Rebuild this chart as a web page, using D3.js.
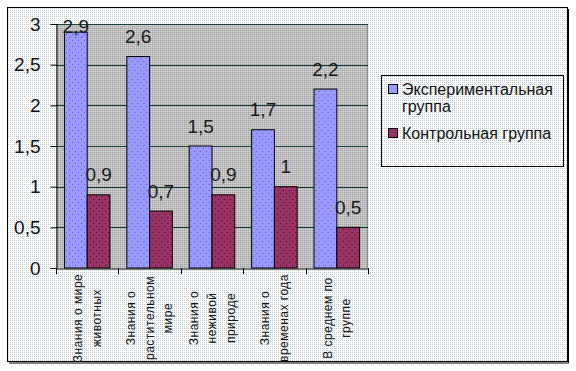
<!DOCTYPE html>
<html>
<head>
<meta charset="utf-8">
<script src="https://cdn.jsdelivr.net/npm/d3@7"></script>
<style>
  html, body { margin: 0; padding: 0; background: #fff; }
  text { font-family: Arial, "Liberation Sans", sans-serif; }
</style>
</head>
<body>
<svg id="chart" width="576" height="371"></svg>
<script>
// data
const categories = ["Знания о мире животных", "Знания о растительном мире", "Знания о неживой природе", "Знания о временах года", "В среднем по группе"];
const catLines = [["Знания о мире", "животных"], ["Знания о", "растительном", "мире"], ["Знания о", "неживой", "природе"], ["Знания о", "временах года"], ["В среднем по", "группе"]];
const seriesNames = ["Экспериментальная группа", "Контрольная группа"];
const expValues = [2.9, 2.6, 1.5, 1.7, 2.2];
const ctrlValues = [0.9, 0.7, 0.9, 1, 0.5];
const yTicks = [0, 0.5, 1, 1.5, 2, 2.5, 3];

const svg = d3.select("#chart");
const defs = svg.append("defs");

// dithered fills, like the old office chart
function dots(id, base, spots, w, h) {
  const p = defs.append("pattern").attr("id", id)
    .attr("patternUnits", "userSpaceOnUse").attr("width", w).attr("height", h);
  p.append("rect").attr("width", w).attr("height", h).attr("fill", base);
  spots.forEach(s => p.append("rect").attr("x", s[0]).attr("y", s[1])
    .attr("width", 1).attr("height", 1).attr("fill", s[2]));
}
dots("bgDots", "#ffffff", [[0, 0, "#c4c4cc"], [2, 0, "#c4c4cc"], [0, 2, "#b8e8ec"], [2, 2, "#c4c4cc"]], 4, 4);
dots("plotDots", "#c0c0c0", [[0, 0, "#a0a0a0"], [1, 1, "#d4d4d4"]], 2, 2);
dots("blueDots", "#9999ff", [[1, 1, "#5a5ab0"], [4, 4, "#5a5ab0"]], 6, 6);
dots("redDots", "#993366", [[1, 1, "#3a1020"], [4, 4, "#3a1020"]], 6, 6);

// outer frame
svg.append("rect").attr("x", 7.5).attr("y", 7.5).attr("width", 560).attr("height", 354)
  .attr("fill", "url(#bgDots)").attr("stroke", "#000").attr("stroke-width", 1);
svg.append("path").attr("d", "M568.5,9V363H9").attr("fill", "none").attr("stroke", "#000");

const pLeft = 56, pRight = 368, pTop = 24, pBottom = 268;

const y = d3.scaleLinear().domain([0, 3]).range([pBottom, pTop]);
const x0 = d3.scaleBand().domain(categories).range([pLeft, pRight]);
const x1 = d3.scaleBand().domain(seriesNames).range([0, x0.bandwidth()]).paddingOuter(0.37);

// plot area
svg.append("rect").attr("x", pLeft).attr("y", pTop).attr("width", pRight - pLeft).attr("height", pBottom - pTop)
  .attr("fill", "url(#plotDots)");
svg.append("path").attr("d", `M${pLeft},${pTop + 0.5}H${pRight - 0.5}V${pBottom}`)
  .attr("fill", "none").attr("stroke", "#8c8c8c");

// grid
svg.append("g").selectAll("line").data(yTicks.filter(t => t > 0)).join("line")
  .attr("x1", pLeft).attr("x2", pRight)
  .attr("y1", d => Math.round(y(d)) + 0.5).attr("y2", d => Math.round(y(d)) + 0.5)
  .attr("stroke", "#143c3c");

// y axis
const yAxis = d3.axisLeft(y).tickValues(yTicks).tickSize(6).tickPadding(10)
  .tickFormat(d => String(d).replace(".", ","));
const gy = svg.append("g").attr("transform", `translate(${pLeft + 0.5},0)`).call(yAxis);
gy.select(".domain").attr("stroke", "#000");
gy.selectAll(".tick line").attr("stroke", "#000");
gy.selectAll(".tick text").attr("font-size", 19).attr("fill", "#111")
  .attr("font-family", "Arial, 'Liberation Sans', sans-serif");

// bars
const groups = svg.append("g").selectAll("g").data(categories).join("g")
  .attr("transform", d => `translate(${x0(d)},0)`);
const rows = categories.map((c, i) => [
  { s: seriesNames[0], v: expValues[i], fill: "url(#blueDots)" },
  { s: seriesNames[1], v: ctrlValues[i], fill: "url(#redDots)" }
]);
groups.selectAll("rect").data((d, i) => rows[i]).join("rect")
  .attr("x", d => x1(d.s)).attr("width", x1.bandwidth())
  .attr("y", d => y(d.v)).attr("height", d => pBottom - y(d.v))
  .attr("fill", d => d.fill).attr("stroke", "#000").attr("stroke-width", 1);

// value labels
groups.selectAll("text.val").data((d, i) => rows[i]).join("text")
  .attr("class", "val")
  .attr("x", d => x1(d.s) + x1.bandwidth() / 2)
  .attr("y", d => Math.max(y(d.v) - 13.5, 33))
  .attr("text-anchor", "middle").attr("font-size", 19).attr("fill", "#1a1a1a")
  .text(d => String(d.v).replace(".", ","));

// x axis
const xAxis = d3.axisBottom(x0).tickSize(0).tickFormat("");
const gx = svg.append("g").attr("transform", `translate(0,${pBottom + 0.5})`).call(xAxis);
gx.select(".domain").attr("stroke", "#000");
svg.append("g").selectAll("line").data(d3.range(categories.length + 1)).join("line")
  .attr("x1", i => Math.round(pLeft + i * x0.step()) + 0.5)
  .attr("x2", i => Math.round(pLeft + i * x0.step()) + 0.5)
  .attr("y1", pBottom).attr("y2", pBottom + 6).attr("stroke", "#000");

// rotated category labels
const lab = svg.append("g").selectAll("text").data(categories).join("text")
  .attr("transform", d => `translate(${x0(d) + x0.bandwidth() / 2},318) rotate(-90)`)
  .attr("text-anchor", "middle").attr("font-size", 12).attr("letter-spacing", 0.5).attr("fill", "#111");
lab.each(function (d, i) {
  const lines = catLines[i];
  d3.select(this).selectAll("tspan").data(lines).join("tspan")
    .attr("x", 0)
    .attr("y", (l, j) => (j - (lines.length - 1) / 2) * 18.5)
    .attr("dy", "0.35em")
    .text(l => l);
});

// legend
const lg = svg.append("g");
lg.append("rect").attr("x", 381.5).attr("y", 75.5).attr("width", 182).attr("height", 91)
  .attr("fill", "url(#bgDots)").attr("stroke", "#000");
const legendItems = [
  { lines: ["Экспериментальная", "группа"], fill: "#9999ff", y: 95 },
  { lines: ["Контрольная группа"], fill: "#993366", y: 139 }
];
legendItems.forEach(it => {
  lg.append("rect").attr("x", 388.5).attr("y", it.y - 10.5).attr("width", 9).attr("height", 9)
    .attr("fill", it.fill).attr("stroke", "#000");
  const t = lg.append("text").attr("font-size", 16).attr("fill", "#111");
  it.lines.forEach((l, j) => t.append("tspan").attr("x", 402).attr("y", it.y + j * 17).text(l));
});
</script>
</body>
</html>
